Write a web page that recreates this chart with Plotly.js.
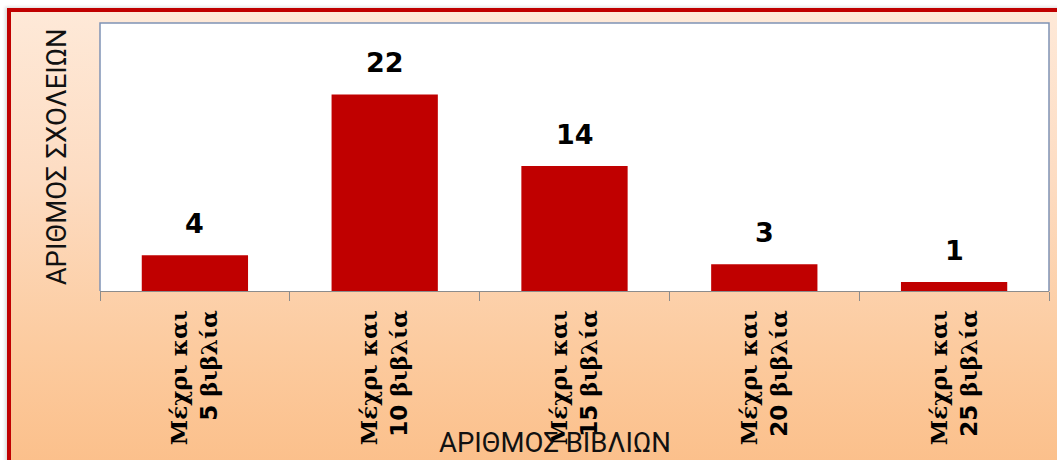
<!DOCTYPE html>
<html>
<head>
<meta charset="utf-8">
<script src="https://cdn.plot.ly/plotly-3.0.1.min.js"></script>
<style>
  html, body { margin: 0; padding: 0; background: #ffffff; width: 1057px; height: 460px; overflow: hidden; }
  #frame {
    position: absolute; left: 7px; top: 8px; width: 1080px; height: 480px;
    border-left: 4px solid #C00000; border-top: 4px solid #C00000;
    background: linear-gradient(to bottom, #FEE9D8 0%, #FDDCC2 35%, #FCCB9F 70%, #FBBD86 100%);
    box-shadow: -2px -1px 3px rgba(0,0,0,0.15);
  }
  #chart { position: absolute; left: 0; top: 0; width: 1057px; height: 460px; }
</style>
</head>
<body>
<div id="frame"></div>
<div id="chart"></div>
<script>
// Data
const categories = [
  "Μέχρι και<br>5 βιβλία",
  "Μέχρι και<br>10 βιβλία",
  "Μέχρι και<br>15 βιβλία",
  "Μέχρι και<br>20 βιβλία",
  "Μέχρι και<br>25 βιβλία"
];
const schools = [4, 22, 14, 3, 1];
const xTitle = "ΑΡΙΘΜΟΣ ΒΙΒΛΙΩΝ";
const yTitle = "ΑΡΙΘΜΟΣ ΣΧΟΛΕΙΩΝ";

// display text: digits in a sans face, Greek in a serif face
const tickText = categories.map(c =>
  c.replace(/(\d+)/g, "<span style='font-family:DejaVu Sans'>$1</span>"));

const trace = {
  type: 'bar',
  x: categories,
  y: schools,
  marker: { color: '#C00000', line: { width: 0 } },
  hoverinfo: 'skip'
};

const valueLabels = categories.map((c, i) => ({
  x: c, y: schools[i], xref: 'x', yref: 'y',
  text: String(schools[i]),
  showarrow: false, yanchor: 'bottom', yshift: 14,
  font: { family: 'DejaVu Sans', size: 27, color: '#000000', weight: 'bold' }
}));

const layout = {
  width: 1057, height: 460,
  margin: { l: 100, r: 8, t: 23, b: 169, pad: 0 },
  paper_bgcolor: 'rgba(0,0,0,0)',
  plot_bgcolor: '#FFFFFF',
  bargap: 0.44,
  showlegend: false,
  xaxis: {
    type: 'category',
    tickmode: 'array', tickvals: categories, ticktext: tickText,
    tickangle: -90,
    ticks: 'outside', ticklen: 9, tickcolor: '#8C8C8C', tickwidth: 1,
    tickson: 'boundaries',
    ticklabelstandoff: 9,
    showline: true, linecolor: '#8C8C8C', linewidth: 1,
    showgrid: false, zeroline: false,
    tickfont: { family: 'DejaVu Serif', size: 23, color: '#000000', weight: 'bold' },
    automargin: false,
    fixedrange: true
  },
  yaxis: {
    range: [0, 30],
    showticklabels: false, ticks: '',
    showgrid: false, zeroline: false, showline: false,
    automargin: false,
    fixedrange: true
  },
  shapes: [
    { type: 'path', xref: 'paper', yref: 'paper',
      path: 'M 0 0 L 0 1 L 1 1 L 1 0',
      line: { color: '#7F93B5', width: 1.5 }, layer: 'above' }
  ],
  annotations: valueLabels.concat([
    { text: yTitle, xref: 'paper', yref: 'paper', x: -0.046, y: 0.5,
      xanchor: 'center', yanchor: 'middle', textangle: -90, showarrow: false,
      font: { family: 'Roboto', size: 27.5, color: '#111111' } },
    { text: xTitle, xref: 'paper', yref: 'paper', x: (555 - 100) / 949, y: -0.565,
      xanchor: 'center', yanchor: 'middle', showarrow: false,
      font: { family: 'Roboto', size: 27.5, color: '#111111' } }
  ])
};

Plotly.newPlot('chart', [trace], layout, { displayModeBar: false, staticPlot: true });
</script>
</body>
</html>
